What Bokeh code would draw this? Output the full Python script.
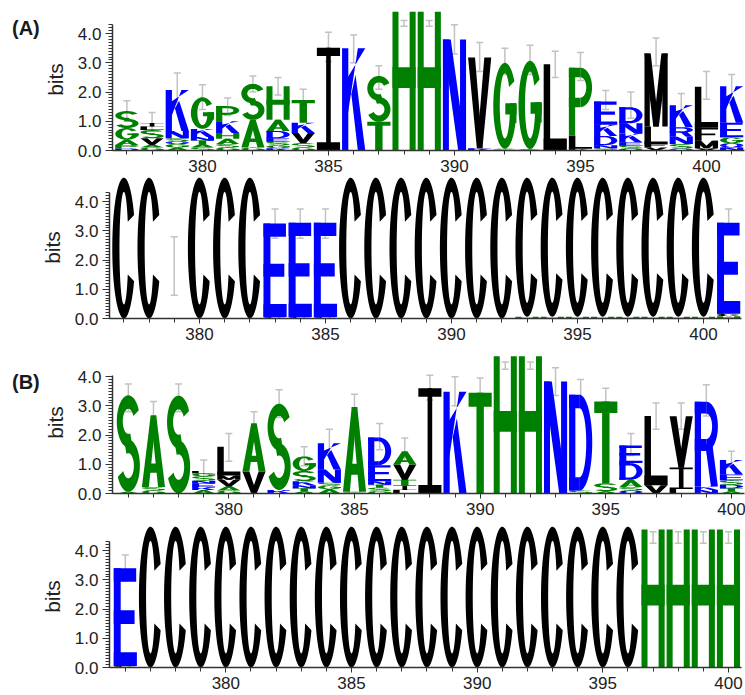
import numpy as np
from bokeh.plotting import figure
from bokeh.models import (ColumnDataSource, Range1d, FixedTicker, SingleIntervalTicker,
                          PrintfTickFormatter, Whisker, TeeHead, Div)
from bokeh.layouts import column, row
from bokeh.embed import file_html
from bokeh.resources import INLINE

# ---------------- data ----------------
pos_A = list(range(377, 402))
pos_B = list(range(376, 401))
x_ticks = [380, 385, 390, 395, 400]
panel_labels = ["(A)", "(B)"]

# (A) sequence logo: letters bottom -> top, heights in bits
A_seq = [
    [("D", 0.07), ("P", 0.12), ("A", 0.18), ("G", 0.40), ("S", 0.58)],
    [("G", 0.10), ("A", 0.10), ("V", 0.22), ("S", 0.28), ("L", 0.12), ("I", 0.12)],
    [("A", 0.10), ("G", 0.12), ("Q", 0.10), ("S", 0.10), ("N", 0.25), ("K", 1.40)],
    [("S", 0.10), ("A", 0.12), ("T", 0.12), ("N", 0.12), ("K", 0.28), ("G", 1.08)],
    [("G", 0.10), ("S", 0.12), ("A", 0.18), ("H", 0.20), ("K", 0.40), ("P", 0.52)],
    [("G", 0.10), ("A", 0.95), ("S", 1.23)],
    [("K", 0.08), ("G", 0.10), ("S", 0.12), ("E", 0.12), ("D", 0.25), ("A", 0.38), ("H", 1.15)],
    [("G", 0.10), ("S", 0.15), ("V", 0.35), ("K", 0.35), ("T", 0.78)],
    [("I", 3.52)],
    [("K", 3.50)],
    [("T", 0.98), ("S", 1.57)],
    [("H", 4.75)],
    [("H", 4.75)],
    [("N", 3.80)],
    [("K", 0.08), ("V", 3.10)],
    [("S", 0.06), ("G", 2.94)],
    [("S", 0.05), ("G", 3.02)],
    [("L", 2.95)],
    [("K", 0.06), ("L", 0.45), ("P", 2.32)],
    [("S", 0.08), ("N", 0.10), ("D", 0.32), ("K", 0.38), ("E", 0.80)],
    [("Q", 0.06), ("S", 0.10), ("E", 0.12), ("K", 0.30), ("N", 0.35), ("D", 0.55)],
    [("V", 0.10), ("F", 0.12), ("L", 0.60), ("M", 2.50)],
    [("Q", 0.07), ("S", 0.15), ("N", 0.25), ("R", 0.33), ("K", 0.75)],
    [("V", 0.08), ("M", 0.25), ("F", 0.45), ("L", 1.40)],
    [("N", 0.10), ("Q", 0.15), ("G", 0.20), ("E", 0.50), ("K", 1.25)],
]
A_seq_err_lo = [1.00, 0.65, 1.45, 1.40, 1.20, 2.00, 1.90, 1.35, 3.05, 3.00, 2.10, 4.25, 4.25,
                3.30, 2.70, 2.60, 2.60, 2.50, 2.40, 1.40, 1.10, 2.90, 1.25, 1.75, 1.80]
A_seq_err_hi = [1.70, 1.30, 2.65, 2.25, 1.80, 2.55, 2.50, 2.10, 4.05, 3.95, 2.90, 4.45, 4.45,
                4.30, 3.70, 3.50, 3.60, 3.40, 3.35, 2.05, 2.00, 3.85, 1.95, 2.70, 2.60]

# (A) secondary structure logo
A_ss = [
    [("C", 4.82)], [("C", 4.82)], [],
    [("C", 4.82)], [("C", 4.82)], [("C", 4.82)],
    [("C", 0.05), ("E", 3.20)], [("C", 0.05), ("E", 3.23)], [("C", 0.05), ("E", 3.23)],
    [("C", 4.82)], [("C", 4.82)], [("C", 4.82)], [("C", 4.82)], [("C", 4.82)], [("C", 4.82)], [("C", 4.82)],
    [("H", 0.06), ("C", 4.76)], [("H", 0.06), ("C", 4.76)], [("H", 0.06), ("C", 4.76)],
    [("H", 0.06), ("C", 4.76)], [("H", 0.06), ("C", 4.76)], [("H", 0.06), ("C", 4.76)],
    [("H", 0.06), ("C", 4.76)], [("H", 0.06), ("C", 4.76)],
    [("H", 0.08), ("C", 0.08), ("E", 3.12)],
]
A_ss_err_lo = [4.35, 4.35, 0.80, 4.35, 4.35, 4.35, 2.75, 2.75, 2.75] + [4.35] * 15 + [2.90]
A_ss_err_hi = [4.60, 4.60, 2.80, 4.60, 4.60, 4.60, 3.75, 3.75, 3.75] + [4.60] * 15 + [3.75]

# (B) sequence logo
B_seq = [
    [("A", 0.06), ("S", 3.30)],
    [("G", 0.10), ("S", 0.12), ("A", 2.45)],
    [("S", 3.35)],
    [("A", 0.12), ("K", 0.10), ("E", 0.12), ("N", 0.10), ("S", 0.15), ("G", 0.10), ("L", 0.08)],
    [("G", 0.10), ("A", 0.15), ("V", 0.22), ("M", 0.15), ("L", 0.98)],
    [("V", 0.75), ("A", 1.65)],
    [("K", 0.12), ("S", 2.95)],
    [("A", 0.08), ("T", 0.10), ("N", 0.10), ("K", 0.14), ("S", 0.35), ("G", 0.50)],
    [("A", 0.15), ("G", 0.12), ("S", 0.10), ("N", 0.45), ("K", 0.90)],
    [("S", 0.06), ("A", 2.90)],
    [("G", 0.08), ("S", 0.12), ("T", 0.10), ("N", 0.12), ("E", 0.55), ("D", 0.95)],
    [("L", 0.12), ("I", 0.15), ("T", 0.20), ("V", 0.52), ("A", 0.45)],
    [("I", 3.60)],
    [("K", 3.48)],
    [("T", 3.45)],
    [("H", 4.70)],
    [("H", 4.70)],
    [("N", 3.83)],
    [("S", 0.10), ("D", 3.28)],
    [("A", 0.08), ("S", 0.27), ("T", 2.80)],
    [("Q", 0.10), ("S", 0.12), ("A", 0.25), ("D", 0.57), ("E", 0.60)],
    [("V", 0.28), ("L", 2.37)],
    [("L", 0.15), ("I", 0.74), ("V", 1.75)],
    [("N", 0.12), ("K", 0.12), ("R", 2.90)],
    [("A", 0.08), ("T", 0.10), ("D", 0.12), ("S", 0.15), ("E", 0.20), ("K", 0.50)],
]
B_seq_err_lo = [2.80, 2.20, 2.80, 0.45, 1.10, 2.00, 2.60, 0.95, 1.30, 2.50, 1.50, 1.10, 3.20,
                3.00, 3.00, 4.25, 4.25, 3.35, 2.95, 2.70, 1.30, 2.20, 2.20, 2.65, 0.90]
B_seq_err_hi = [3.75, 3.15, 3.75, 1.15, 2.05, 2.80, 3.55, 1.60, 2.20, 3.40, 2.40, 1.90, 4.05,
                4.00, 3.95, 4.50, 4.50, 4.30, 3.90, 3.60, 2.05, 3.10, 3.10, 3.72, 1.45]

# (B) secondary structure logo
B_ss = [[("C", 0.05), ("E", 3.35)]] + [[("C", 4.82)] for _ in range(20)] + [[("H", 4.72)] for _ in range(4)]
B_ss_err_lo = [2.95] + [4.35] * 20 + [4.25] * 4
B_ss_err_hi = [3.85] + [4.72] * 20 + [4.65] * 4

# ---------------- styling ----------------
BLUE, GREEN, BLACK = "#0000FF", "#008000", "#000000"
COLOR = {}
for ch in "RKDENQ":
    COLOR[ch] = BLUE
for ch in "SGHTAP":
    COLOR[ch] = GREEN
for ch in "YVMCLFIW":
    COLOR[ch] = BLACK
ERR = "#c2c2c2"
FONT = "Liberation Sans"


# ---------------- letter outlines (unit box) ----------------
def rect(x0, y0, x1, y1):
    return [(x0, y0), (x1, y0), (x1, y1), (x0, y1)]


def band(cx, cy, rxo, ryo, rxi, ryi, a0, a1, n=56):
    t = np.radians(np.linspace(a0, a1, n))
    outer = list(zip(cx + rxo * np.cos(t), cy + ryo * np.sin(t)))
    ti = t[::-1]
    inner = list(zip(cx + rxi * np.cos(ti), cy + ryi * np.sin(ti)))
    return outer + inner


P_parts = [rect(0, 0, .27, 1), rect(0, .86, .5, 1), rect(0, .42, .5, .56),
           band(.5, .71, .5, .29, .25, .15, -90, 90)]
SHAPES = {
    "H": [rect(0, 0, .26, 1), rect(.74, 0, 1, 1), rect(0, .45, 1, .6)],
    "I": [rect(0, 0, 1, .08), rect(0, .92, 1, 1), rect(.4, 0, .6, 1)],
    "L": [rect(0, 0, .28, 1), rect(0, 0, 1, .14)],
    "E": [rect(0, 0, .3, 1), rect(0, 0, 1, .14), rect(0, .86, .97, 1), rect(0, .43, .9, .57)],
    "F": [rect(0, 0, .29, 1), rect(0, .86, 1, 1), rect(0, .42, .88, .56)],
    "T": [rect(0, .86, 1, 1), rect(.34, 0, .66, 1)],
    "K": [rect(0, 0, .27, 1), [(.2, .28), (.68, 1), (1, 1), (.2, .7)],
          [(.4, .55), (.68, 0), (1, 0), (.58, .74)]],
    "V": [[(0, 1), (.3, 1), (.62, 0), (.38, 0)], [(1, 1), (.7, 1), (.38, 0), (.62, 0)]],
    "A": [[(0, 0), (.3, 0), (.62, 1), (.38, 1)], [(1, 0), (.7, 0), (.38, 1), (.62, 1)],
          rect(.16, .2, .84, .33)],
    "N": [rect(0, 0, .26, 1), rect(.74, 0, 1, 1), [(0, 1), (.34, 1), (1, 0), (.66, 0)]],
    "M": [rect(0, 0, .23, 1), rect(.77, 0, 1, 1), [(0, 1), (.27, 1), (.62, 0), (.38, 0)],
          [(1, 1), (.73, 1), (.38, 0), (.62, 0)]],
    "Y": [[(0, 1), (.3, 1), (.63, .42), (.37, .42)], [(1, 1), (.7, 1), (.37, .42), (.63, .42)],
          rect(.36, 0, .64, .46)],
    "C": [band(.5, .5, .5, .5, .19, .4, 28, 332)],
    "G": [band(.5, .5, .5, .5, .22, .38, 35, 360), rect(.52, .4, 1, .53), rect(.72, .3, 1, .53)],
    "S": [band(.5, .73, .5, .27, .24, .13, 25, 290), band(.5, .27, .5, .27, .24, .13, -155, 110)],
    "P": P_parts,
    "R": P_parts + [[(.45, .5), (.7, 0), (1, 0), (.76, .5)]],
    "D": [rect(0, 0, .27, 1), rect(0, .86, .46, 1), rect(0, 0, .46, .14),
          band(.45, .5, .55, .5, .29, .36, -90, 90)],
    "Q": [band(.5, .5, .5, .5, .24, .37, 0, 182), band(.5, .5, .5, .5, .24, .37, 178, 362),
          [(.55, .25), (.72, .32), (1, 0), (.8, 0)]],
}

LETTER_W = 0.92
FRAME_W = 632


def draw_logo(p, positions, stacks, err_lo, err_hi):
    xs, ys, cols = [], [], []
    for pos, stack in zip(positions, stacks):
        base = 0.0
        for ch, h in stack:
            for poly in SHAPES[ch]:
                xs.append([pos - LETTER_W / 2 + px * LETTER_W for px, _ in poly])
                ys.append([base + py * h for _, py in poly])
                cols.append(COLOR[ch])
            base += h
    src = ColumnDataSource(dict(xs=xs, ys=ys, c=cols))
    p.patches("xs", "ys", fill_color="c", line_color=None, source=src)
    esrc = ColumnDataSource(dict(base=positions, lo=err_lo, hi=err_hi))
    w = Whisker(source=esrc, base="base", lower="lo", upper="hi",
                line_color=ERR, line_width=1.5,
                upper_head=TeeHead(size=7, line_color=ERR, line_width=1.5),
                lower_head=TeeHead(size=7, line_color=ERR, line_width=1.5))
    p.add_layout(w)


def make_fig(xr, top_border, ybound, minors, left_border=109):
    p = figure(frame_width=FRAME_W, frame_height=142,
               x_range=Range1d(*xr), y_range=Range1d(0, 4.86),
               output_backend="svg", toolbar_location=None,
               min_border_left=left_border, min_border_right=2,
               min_border_top=top_border, min_border_bottom=26)
    p.outline_line_color = None
    p.xgrid.visible = False
    p.ygrid.visible = False
    p.background_fill_color = "white"
    p.border_fill_color = "white"

    xa = p.xaxis[0]
    xa.ticker = FixedTicker(ticks=x_ticks, minor_ticks=minors)
    xa.axis_line_color = "#333333"
    xa.axis_line_width = 1.5
    xa.major_tick_line_color = "#333333"
    xa.minor_tick_line_color = "#333333"
    xa.major_tick_out = 5
    xa.major_tick_in = 0
    xa.minor_tick_out = 4
    xa.minor_tick_in = 0
    xa.major_label_standoff = 4
    xa.major_label_text_font = FONT
    xa.major_label_text_font_size = "17px"
    xa.major_label_text_color = "#222222"

    ya = p.yaxis[0]
    ya.ticker = SingleIntervalTicker(interval=1, num_minor_ticks=10)
    ya.formatter = PrintfTickFormatter(format="%.1f")
    ya.bounds = ybound
    ya.axis_line_color = "#333333"
    ya.axis_line_width = 1.5
    ya.major_tick_line_color = "#333333"
    ya.minor_tick_line_color = "#333333"
    ya.major_tick_out = 7
    ya.major_tick_in = 0
    ya.minor_tick_out = 4
    ya.minor_tick_in = 0
    ya.major_label_standoff = 4
    ya.major_label_text_font = FONT
    ya.major_label_text_font_size = "17px"
    ya.major_label_text_color = "#222222"
    ya.axis_label = "bits"
    ya.axis_label_text_font = FONT
    ya.axis_label_text_font_size = "21px"
    ya.axis_label_text_font_style = "normal"
    ya.axis_label_text_color = "#222222"
    ya.axis_label_standoff = 8
    return p


def panel_div(text, top):
    return Div(text='<div style="margin-top:%dpx;margin-left:12px;font-family:\'Liberation Sans\';'
                    'font-weight:bold;font-size:20px;color:#1a1a1a;line-height:22px;">%s</div>'
                    % (top, text),
               width=40, height=60, margin=0)


# x ranges: (A) 25.2 px per residue, (B) 25.13 px per residue
xr_A = (376.43, 376.43 + FRAME_W / 25.2)
xr_B = (375.37, 375.37 + FRAME_W / 25.13)

p1 = make_fig(xr_A, 8, (0, 4.3), pos_A, left_border=69)
draw_logo(p1, pos_A, A_seq, A_seq_err_lo, A_seq_err_hi)

p2 = make_fig(xr_A, 0, (0, 4.3), pos_A)
draw_logo(p2, pos_A, A_ss, A_ss_err_lo, A_ss_err_hi)

p3 = make_fig(xr_B, 7, (0, 4.05), pos_B, left_border=69)
draw_logo(p3, pos_B, B_seq, B_seq_err_lo, B_seq_err_hi)

p4 = make_fig(xr_B, 6, (0, 4.3), pos_B)
draw_logo(p4, pos_B, B_ss, B_ss_err_lo, B_ss_err_hi)

layout = column(row(panel_div(panel_labels[0], 17), p1, spacing=0),
                p2,
                row(panel_div(panel_labels[1], 27), p3, spacing=0),
                p4, spacing=0)
open("out.html", "w").write(file_html(layout, INLINE))
